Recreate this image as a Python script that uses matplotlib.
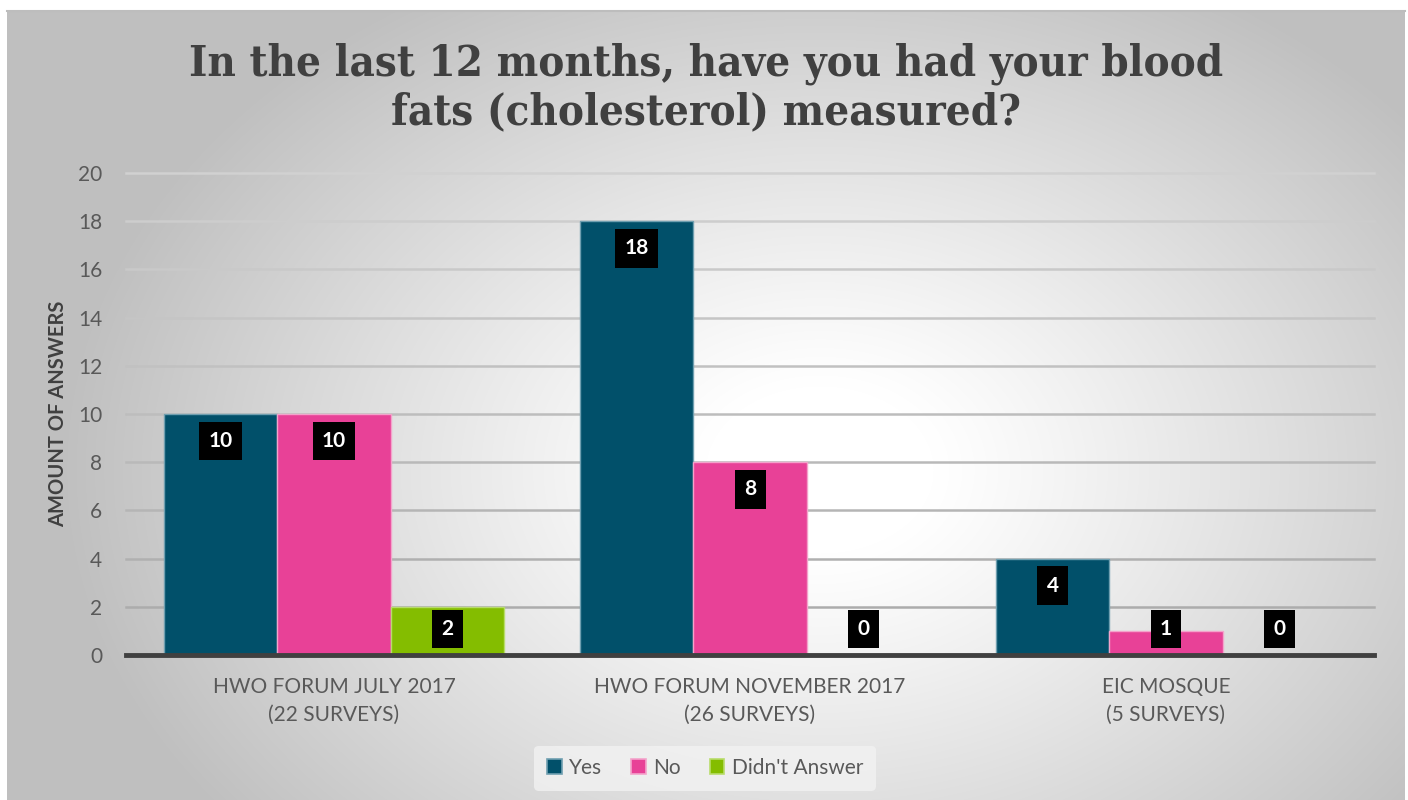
import numpy as np
import matplotlib
matplotlib.use("Agg")
import matplotlib.pyplot as plt
from matplotlib.patches import Patch

categories = ["HWO FORUM JULY 2017\n(22 SURVEYS)",
              "HWO FORUM NOVEMBER 2017\n(26 SURVEYS)",
              "EIC MOSQUE\n(5 SURVEYS)"]
series_names = ["Yes", "No", "Didn't Answer"]
yes_vals = [10, 18, 4]
no_vals = [10, 8, 1]
didnt_vals = [2, 0, 0]
colors = ["#01506a", "#e84197", "#84bd00"]
edge_colors = ["#6f9fb0", "#f3a3cb", "#b8dc6a"]
title = "In the last 12 months, have you had your blood\nfats (cholesterol) measured?"
y_label = "AMOUNT OF ANSWERS"
y_ticks = list(range(0, 21, 2))

W, H = 1408, 800
fig = plt.figure(figsize=(W / 100, H / 100), dpi=100)
fig.patch.set_facecolor("white")

# background panel with radial gradient
px0, py0, px1, py1 = 7, 11, 1405, 800
bg = fig.add_axes([px0 / W, 1 - py1 / H, (px1 - px0) / W, (py1 - py0) / H], zorder=-5)
xs = np.arange(px0, px1)
ys = np.arange(py0, py1)
X, Y = np.meshgrid(xs, ys)
cx, cy, rx, ry = 820, 470, 760, 560
d = np.sqrt(((X - cx) / rx) ** 2 + ((Y - cy) / ry) ** 2)
d = np.clip((d - 0.15) / 0.85, 0, 1)
val = 1.0 - 0.25 * d ** 1.1
img = np.dstack([val, val, val])
bg.imshow(img, aspect="auto", extent=(0, 1, 0, 1), interpolation="bilinear")
bg.set_xlim(0, 1); bg.set_ylim(0, 1)
for s in bg.spines.values():
    s.set_visible(False)
bg.spines["top"].set_visible(True)
bg.spines["top"].set_color("#bdbdbd")
bg.spines["top"].set_linewidth(1.5)
bg.set_xticks([]); bg.set_yticks([])

# main axes
ax_l, ax_r = 126, 1374
ax_top, ax_bot = 173, 655
ax = fig.add_axes([ax_l / W, 1 - ax_bot / H, (ax_r - ax_l) / W, (ax_bot - ax_top) / H])
ax.patch.set_alpha(0)

font = "Lato"
tick_color = "#595959"
x = np.arange(len(categories))
bw = 0.272
series = [yes_vals, no_vals, didnt_vals]
for i, (vals, c, ec) in enumerate(zip(series, colors, edge_colors)):
    pos = x + (i - 1) * bw
    ax.bar(pos, vals, width=bw, color=c, edgecolor=ec, linewidth=1.0, zorder=3)
    for p, v in zip(pos, vals):
        ly = max(v - 1.12, 1.08)
        ax.text(p, ly, str(v), ha="center", va="center", color="white",
                fontsize=15, fontweight="bold", family=font, zorder=5,
                bbox=dict(boxstyle="square,pad=0.45", facecolor="black", edgecolor="none"))

ax.set_xlim(-0.5, 2.5)
ax.set_ylim(0, 20)
ax.set_yticks(y_ticks)
ax.set_yticklabels([str(t) for t in y_ticks], fontsize=15, color=tick_color, family=font)
ax.set_xticks(x)
ax.set_xticklabels(categories, fontsize=15, color=tick_color, family=font, linespacing=1.45)
ax.tick_params(axis="both", length=0)
ax.tick_params(axis="y", pad=17)
ax.tick_params(axis="x", pad=16)
# gridlines: lighter at top, darker toward the base
for t in y_ticks[1:]:
    g = 0.66 + 0.16 * (t / 20.0)
    ax.axhline(t, color=(g, g, g), linewidth=1.8, zorder=1, clip_on=False)
for s in ["top", "right", "left"]:
    ax.spines[s].set_visible(False)
ax.spines["bottom"].set_color("#404040")
ax.spines["bottom"].set_linewidth(3.5)
ax.spines["bottom"].set_zorder(6)

ax.set_ylabel(y_label, fontsize=14.5, fontweight="bold", color="#404040", family=font)
ax.yaxis.set_label_coords((68 - ax_l) / (ax_r - ax_l), 0.5)

fig.text(706 / W, 1 - 88 / H, title, ha="center", va="center", fontsize=31.3,
         family="DejaVu Serif", fontstretch="condensed", fontweight="bold",
         color="#404040", linespacing=1.18)

handles = [Patch(facecolor=c, edgecolor=ec, linewidth=1.2) for c, ec in zip(colors, edge_colors)]
leg = fig.legend(handles, series_names, loc="center", bbox_to_anchor=(705 / W, 1 - 768 / H),
                 ncol=3, frameon=True, handlelength=0.7, handleheight=0.7,
                 handletextpad=0.35, columnspacing=1.4, borderpad=0.6,
                 prop={"family": font, "size": 15})
leg.get_frame().set_facecolor("#f2f2f2")
leg.get_frame().set_edgecolor("none")
leg.get_frame().set_alpha(0.8)
for t in leg.get_texts():
    t.set_color(tick_color)

fig.savefig("out.png", dpi=100)
